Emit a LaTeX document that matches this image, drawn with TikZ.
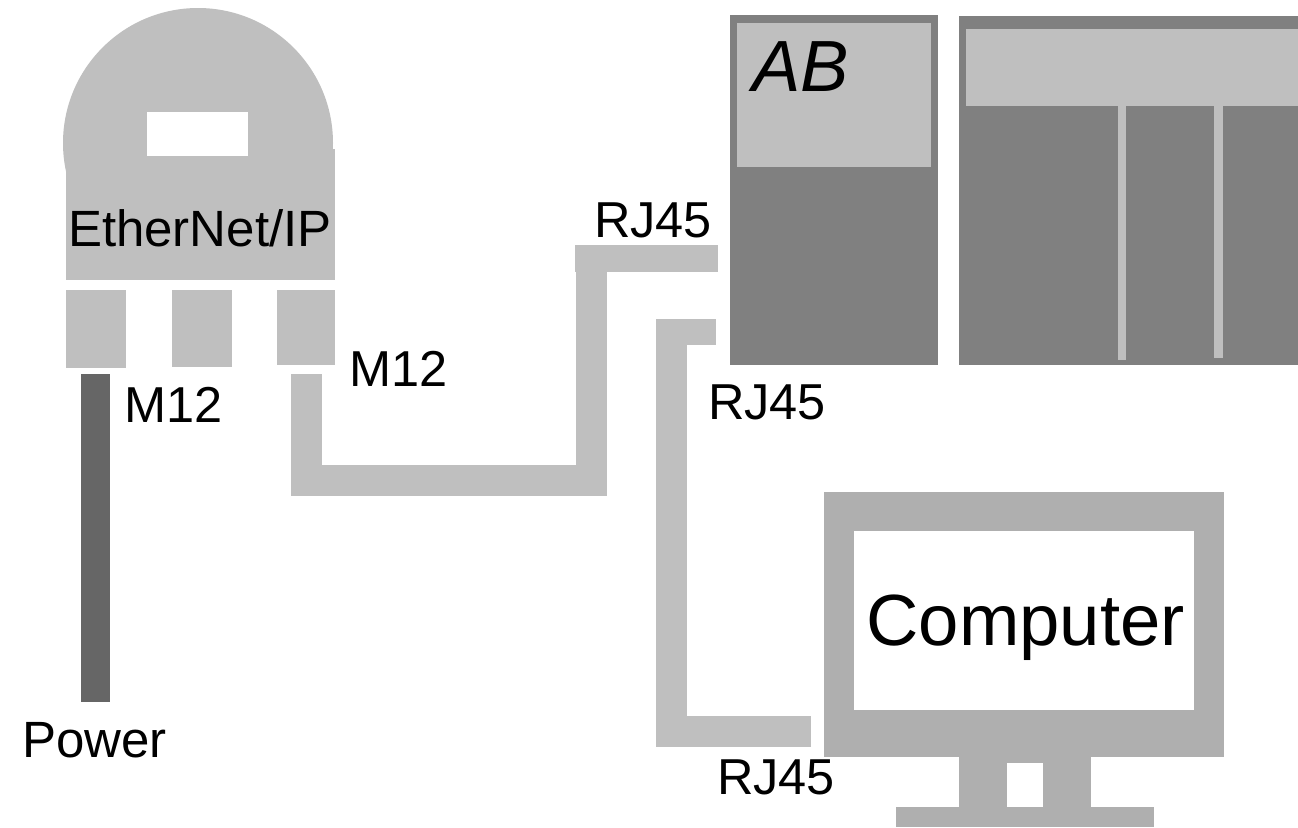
\documentclass[tikz,border=0pt]{standalone}
\usepackage{fontspec}
\setmainfont{Liberation Sans}
\newcommand{\pxbox}[6]{\node[#1,minimum width=#4-#3,minimum height=#6-#5] (#2) at ({(#3+#4)/2},{(#5+#6)/2}) {};}
\tikzset{
 block/.style={rectangle,draw=none,inner sep=0pt,outer sep=0pt},
 light/.style={block,fill=lightgray},
 dark/.style={block,fill=plcgray},
 comp/.style={block,fill=compgray},
 hole/.style={block,fill=white},
 cable/.style={draw=lightgray,line join=miter,line cap=butt},
 lbl/.style={inner sep=0pt,outer sep=0pt,anchor=base west,font=\fontsize{50.5}{60}\selectfont,text=black},
 big/.style={lbl,font=\fontsize{72.5}{86}\selectfont},
}
\definecolor{lightgray}{HTML}{BFBFBF}
\definecolor{plcgray}{HTML}{808080}
\definecolor{compgray}{HTML}{AFAFAF}
\definecolor{powergray}{HTML}{666666}
\begin{document}
\begin{tikzpicture}[x=1pt,y=-1pt]
\useasboundingbox (0,0) rectangle (1298,827);
% EtherNet/IP device
\fill[lightgray] (198,143) circle[radius=135pt];
\pxbox{light}{body}{66}{335}{149}{280}
\pxbox{hole}{window}{147}{248}{112}{156}
\pxbox{light}{portA}{66}{126}{290}{368}
\pxbox{light}{portB}{172}{232}{290}{367}
\pxbox{light}{portC}{277}{335}{290}{365}
\node[lbl,font=\fontsize{51}{60}\selectfont] (ethlabel) at (68,246) {EtherNet/IP};
% power cable
\pxbox{block,fill=powergray}{power}{81}{110}{374}{702}
% PLC
\pxbox{dark}{plcA}{730}{938}{15}{365}
\pxbox{light}{plcAtop}{737}{931}{23}{167}
\pxbox{dark}{plcB}{959}{1298}{16}{365}
\pxbox{light}{plcBbar}{966}{1298}{29}{106}
\pxbox{light}{slotA}{1118}{1126}{106}{360}
\pxbox{light}{slotB}{1214}{1223}{106}{358}
\node[big,font=\fontsize{72.5}{86}\selectfont\itshape] (ab) at (752,91) {AB};
% computer
\pxbox{comp}{screen}{824}{1224}{492}{757}
\pxbox{hole}{display}{854}{1194}{531}{710}
\pxbox{comp}{stand}{959}{1091}{757}{808}
\pxbox{hole}{standhole}{1007}{1043}{763}{807}
\pxbox{comp}{base}{896}{1154}{807}{827}
\node[big] (complabel) at (866.5,645) {Computer};
% cables
\coordinate (c1start) at (306,374);
\coordinate (c1corner) at (591,480.5);
\coordinate (c1top) at (591,272);
\coordinate (c1end) at (718,258.5);
\draw[cable,line width=31pt] (c1start) |- (c1corner) -- (c1top);
\draw[cable,line width=27pt] (575,258.5) -- (c1end);
\coordinate (c2end) at (716,332);
\coordinate (c2corner) at (671.5,731);
\coordinate (c2start) at (811,731);
\draw[cable,line width=31pt] (c2start) -- (c2corner) -- (671.5,319);
\draw[cable,line width=26pt] (656,332) -- (c2end);
% labels
\node[lbl] (rjA) at (594,237.5) {RJ45};
\node[lbl] (rjB) at (708,419) {RJ45};
\node[lbl] (rjC) at (717,794) {RJ45};
\node[lbl] (mA) at (349,386) {M12};
\node[lbl] (mB) at (124,422) {M12};
\node[lbl,font=\fontsize{51}{60}\selectfont] (pw) at (22,757.5) {Power};
\end{tikzpicture}
\end{document}
